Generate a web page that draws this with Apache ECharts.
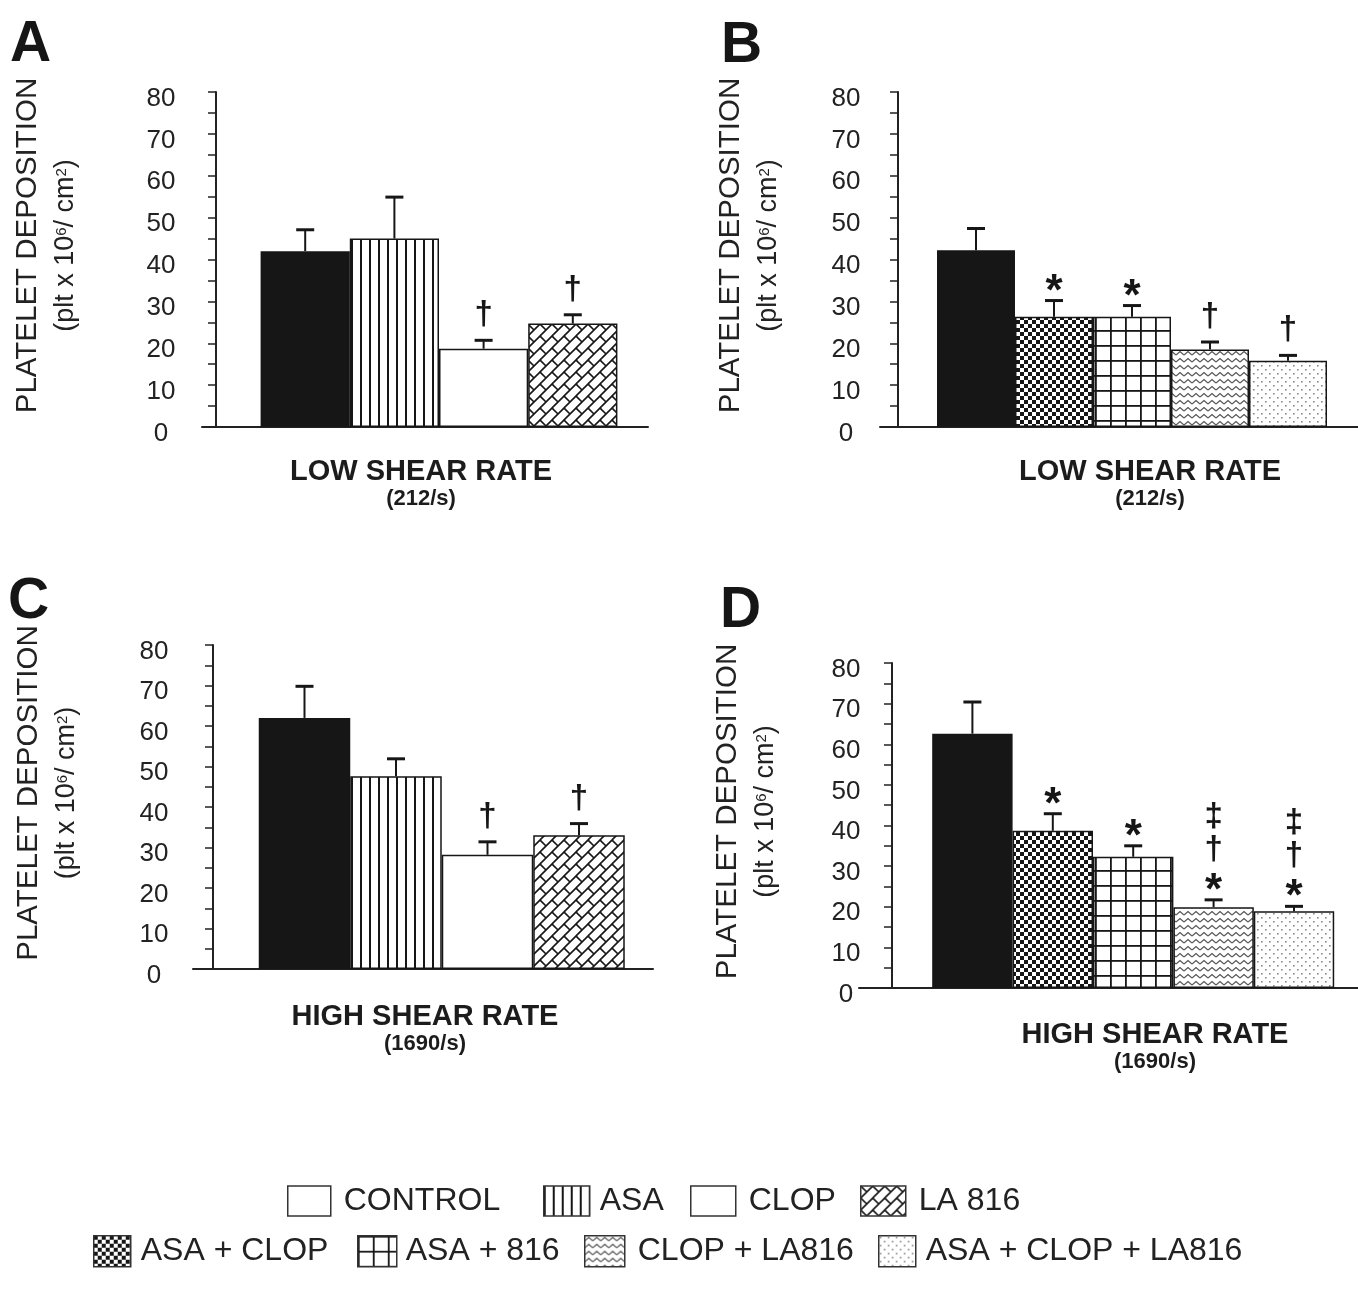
<!DOCTYPE html>
<html>
<head>
<meta charset="utf-8">
<script src="https://cdn.jsdelivr.net/npm/echarts/dist/echarts.min.js"></script>
<style>
html,body{margin:0;padding:0;background:#ffffff;}
#chart{width:1358px;height:1304px;}
</style>
</head>
<body>
<div id="chart"></div>
<script>
// ---------------- DATA ----------------
const leftGroups  = ['CONTROL', 'ASA', 'CLOP', 'LA 816'];
const rightGroups = ['CONTROL', 'ASA + CLOP', 'ASA + 816', 'CLOP + LA816', 'ASA + CLOP + LA816'];

// Panel A: low shear rate (212/s)
const lowLeftMean = [42.0, 45.0, 18.7, 24.7];
const lowLeftSem  = [5.1, 9.9, 2.0, 2.1];
const lowLeftSig  = [[], [], ['†'], ['†']];

// Panel B: low shear rate (212/s)
const lowRightMean = [42.2, 26.3, 26.3, 18.5, 15.8];
const lowRightSem  = [5.2, 3.9, 2.7, 1.8, 1.3];
const lowRightSig  = [[], ['*'], ['*'], ['†'], ['†']];

// Panel C: high shear rate (1690/s)
const highLeftMean = [62.0, 47.6, 28.2, 33.0];
const highLeftSem  = [7.8, 4.3, 3.2, 2.9];
const highLeftSig  = [[], [], ['†'], ['†']];

// Panel D: high shear rate (1690/s)
const highRightMean = [62.6, 38.7, 32.3, 19.9, 18.9];
const highRightSem  = [7.8, 4.2, 2.7, 1.8, 1.2];
const highRightSig  = [[], ['*'], ['*'], ['*', '†', '‡'], ['*', '†', '‡']];

const yTickLabels = [0, 10, 20, 30, 40, 50, 60, 70, 80];
const panelLetters = ['A', 'B', 'C', 'D'];
const captions = [
  ['LOW SHEAR RATE', '(212/s)'],
  ['LOW SHEAR RATE', '(212/s)'],
  ['HIGH SHEAR RATE', '(1690/s)'],
  ['HIGH SHEAR RATE', '(1690/s)']
];
const legendRow1 = ['CONTROL', 'ASA', 'CLOP', 'LA 816'];
const legendRow2 = ['ASA + CLOP', 'ASA + 816', 'CLOP + LA816', 'ASA + CLOP + LA816'];

// ---------------- STYLE ----------------
const FONT = '"Liberation Sans", Arial, Helvetica, sans-serif';
const INK = '#161616';

function tile(w, h, draw) {
  const c = document.createElement('canvas');
  c.width = w; c.height = h;
  const g = c.getContext('2d');
  g.fillStyle = '#ffffff';
  g.fillRect(0, 0, w, h);
  draw(g);
  return { image: c, repeat: 'repeat' };
}
const fills = {
  'CONTROL': INK,
  'ASA': tile(9, 9, g => { g.fillStyle = INK; g.fillRect(0, 0, 2, 9); }),
  'CLOP': '#ffffff',
  'LA 816': tile(12, 12, g => {
    g.strokeStyle = INK; g.lineWidth = 1.6;
    g.beginPath();
    g.moveTo(-1, 13); g.lineTo(13, -1);
    g.moveTo(-2, 2); g.lineTo(2, -2);
    g.moveTo(10, 14); g.lineTo(14, 10);
    g.moveTo(0, 0); g.lineTo(6, 6);
    g.stroke();
  }),
  'ASA + CLOP': tile(8, 8, g => { g.fillStyle = INK; g.fillRect(0, 0, 4, 4); g.fillRect(4, 4, 4, 4); }),
  'ASA + 816': tile(15, 15, g => { g.fillStyle = INK; g.fillRect(0, 0, 15, 1.8); g.fillRect(0, 0, 1.8, 15); }),
  'CLOP + LA816': tile(8, 7, g => {
    g.strokeStyle = '#555'; g.lineWidth = 1.2;
    g.beginPath(); g.moveTo(0, 5); g.lineTo(4, 1.5); g.lineTo(8, 5); g.stroke();
  }),
  'ASA + CLOP + LA816': tile(8, 8, g => {
    g.fillStyle = '#8a8a8a'; g.fillRect(1, 1, 1.6, 1.6); g.fillRect(5, 5, 1.6, 1.6);
  })
};

const SYM = {
  '*': { size: 44, dy: 9 },
  '†': { size: 33, dy: 0 },
  '‡': { size: 33, dy: 0 }
};

// Panel layout (positions/sizes only)
const panels = [
  { cats: leftGroups,  mean: lowLeftMean,   sem: lowLeftSem,   sig: lowLeftSig,
    grid: { left: 202, top: 92, width: 446, height: 335 }, yAxisX: 216, step: 89.2,
    labelMargin: 41, nameGap: 119, letter: { left: 10, top: 17 }, cap: { x: 421, top: 457 } },
  { cats: rightGroups, mean: lowRightMean,  sem: lowRightSem,  sig: lowRightSig,
    grid: { left: 880, top: 92, width: 478, height: 335 }, yAxisX: 898, step: 78,
    labelMargin: 34, nameGap: 94, letter: { left: 721, top: 18 }, cap: { x: 1150, top: 457 } },
  { cats: leftGroups,  mean: highLeftMean,  sem: highLeftSem,  sig: highLeftSig,
    grid: { left: 193, top: 645, width: 460, height: 324 }, yAxisX: 213, step: 91.5,
    labelMargin: 39, nameGap: 109, letter: { left: 8, top: 574 }, cap: { x: 425, top: 1002 } },
  { cats: rightGroups, mean: highRightMean, sem: highRightSem, sig: highRightSig,
    grid: { left: 859, top: 663, width: 499, height: 325 }, yAxisX: 892, step: 80.4,
    labelMargin: 13, nameGap: 76, letter: { left: 720, top: 583 }, cap: { x: 1155, top: 1020 } }
];

const legendPos = {
  'CONTROL': { left: 287, top: 1185, w: 43, h: 30, pad: 13 },
  'ASA': { left: 543, top: 1185, w: 46, h: 30, pad: 10 },
  'CLOP': { left: 690, top: 1185, w: 45, h: 30, pad: 13 },
  'LA 816': { left: 860, top: 1185, w: 45, h: 30, pad: 13 },
  'ASA + CLOP': { left: 93, top: 1235, w: 37, h: 31, pad: 10 },
  'ASA + 816': { left: 357, top: 1235, w: 39, h: 31, pad: 9 },
  'CLOP + LA816': { left: 584, top: 1235, w: 40, h: 31, pad: 13 },
  'ASA + CLOP + LA816': { left: 878, top: 1235, w: 37, h: 31, pad: 10 }
};

const axisColor = '#222';
const grids = [], xAxes = [], yAxes = [], series = [], titles = [];

panels.forEach((p, k) => {
  grids.push(Object.assign({ containLabel: false }, p.grid));
  xAxes.push({
    gridIndex: k, type: 'value',
    min: -(p.yAxisX - p.grid.left) / p.step,
    max: (p.grid.left + p.grid.width - p.yAxisX) / p.step,
    axisLine: { show: true, onZero: true, lineStyle: { color: axisColor, width: 2 } },
    axisTick: { show: false }, axisLabel: { show: false }, splitLine: { show: false }
  });
  yAxes.push({
    gridIndex: k, type: 'value', min: 0, max: 80, interval: 5,
    axisLine: { show: true, onZero: true, lineStyle: { color: axisColor, width: 2 } },
    axisTick: { show: true, length: 8, lineStyle: { color: axisColor, width: 1.5 } },
    axisLabel: {
      formatter: v => (yTickLabels.indexOf(v) >= 0 ? String(v) : ''),
      margin: p.labelMargin, fontSize: 26, color: '#222', fontFamily: FONT,
      align: 'center', verticalAlign: 'top', lineHeight: 13
    },
    splitLine: { show: false },
    name: '{t|PLATELET DEPOSITION}\n{u|(plt x 10}{s|6}{u|/ cm}{s|2}{u|)}',
    nameLocation: 'middle', nameRotate: 90, nameGap: p.nameGap,
    nameTextStyle: {
      padding: [0, 0, 0, 28],
      rich: {
        t: { fontSize: 29.5, lineHeight: 42, fontFamily: FONT, color: '#222' },
        u: { fontSize: 27, lineHeight: 34, fontFamily: FONT, color: '#222' },
        s: { fontSize: 15, lineHeight: 34, fontFamily: FONT, color: '#222', verticalAlign: 'top', padding: [5, 0, 0, 0] }
      }
    }
  });

  p.cats.forEach((name, i) => {
    series.push({
      type: 'bar', name: name, xAxisIndex: k, yAxisIndex: k,
      barWidth: p.step, barGap: '-100%',
      data: [[i + 1, p.mean[i]]],
      itemStyle: { color: fills[name], borderColor: INK, borderWidth: 1.5 },
      emphasis: { disabled: true }, z: 2
    });
  });

  series.push({
    type: 'custom', xAxisIndex: k, yAxisIndex: k, silent: true, z: 5,
    data: p.mean.map((m, i) => [i + 1, m, m + p.sem[i]]),
    renderItem: (params, api) => {
      const x = api.value(0), m = api.value(1), t = api.value(2);
      const pm = api.coord([x, m]), pt = api.coord([x, t]);
      const children = [
        { type: 'line', shape: { x1: pm[0], y1: pm[1], x2: pt[0], y2: pt[1] }, style: { stroke: INK, lineWidth: 2 } },
        { type: 'line', shape: { x1: pt[0] - 9, y1: pt[1], x2: pt[0] + 9, y2: pt[1] }, style: { stroke: INK, lineWidth: 3 } }
      ];
      const marks = p.sig[params.dataIndex];
      let y = pt[1] - (marks[0] === '*' ? 17 : 25);
      marks.forEach(s => {
        const st = SYM[s];
        children.push({
          type: 'text',
          style: { text: s, x: pt[0], y: y + st.dy, align: 'center', verticalAlign: 'middle',
                   font: 'bold ' + st.size + 'px ' + FONT, fill: INK }
        });
        y -= 33;
      });
      return { type: 'group', children: children };
    }
  });

  titles.push({
    text: panelLetters[k], left: p.letter.left, top: p.letter.top, padding: 0,
    textStyle: { fontSize: 57, fontWeight: 'bold', color: INK, fontFamily: FONT }
  });
  titles.push({
    text: captions[k][0], subtext: captions[k][1],
    left: p.cap.x, top: p.cap.top, textAlign: 'center', itemGap: 2, padding: 0,
    textStyle: { fontSize: 29, fontWeight: 'bold', color: '#1c1c1c', fontFamily: FONT },
    subtextStyle: { fontSize: 22, fontWeight: 'bold', color: '#1c1c1c', fontFamily: FONT }
  });
});

const legends = legendRow1.concat(legendRow2).map(name => {
  const L = legendPos[name];
  return {
    left: L.left, top: L.top, padding: 0, orient: 'horizontal', icon: 'rect',
    itemWidth: L.w, itemHeight: L.h,
    itemStyle: { borderColor: '#333', borderWidth: 1.5 },
    textStyle: { fontSize: 32, color: '#222', fontFamily: FONT, padding: [0, 0, 0, L.pad - 5] },
    selectedMode: false,
    data: [name === 'CONTROL' ? { name: name, itemStyle: { color: '#ffffff' } } : name]
  };
});

const option = {
  backgroundColor: '#ffffff',
  animation: false,
  title: titles,
  grid: grids,
  xAxis: xAxes,
  yAxis: yAxes,
  legend: legends,
  series: series
};

const chart = echarts.init(document.getElementById('chart'), null, { renderer: 'canvas' });
chart.setOption(option);
</script>
</body>
</html>
